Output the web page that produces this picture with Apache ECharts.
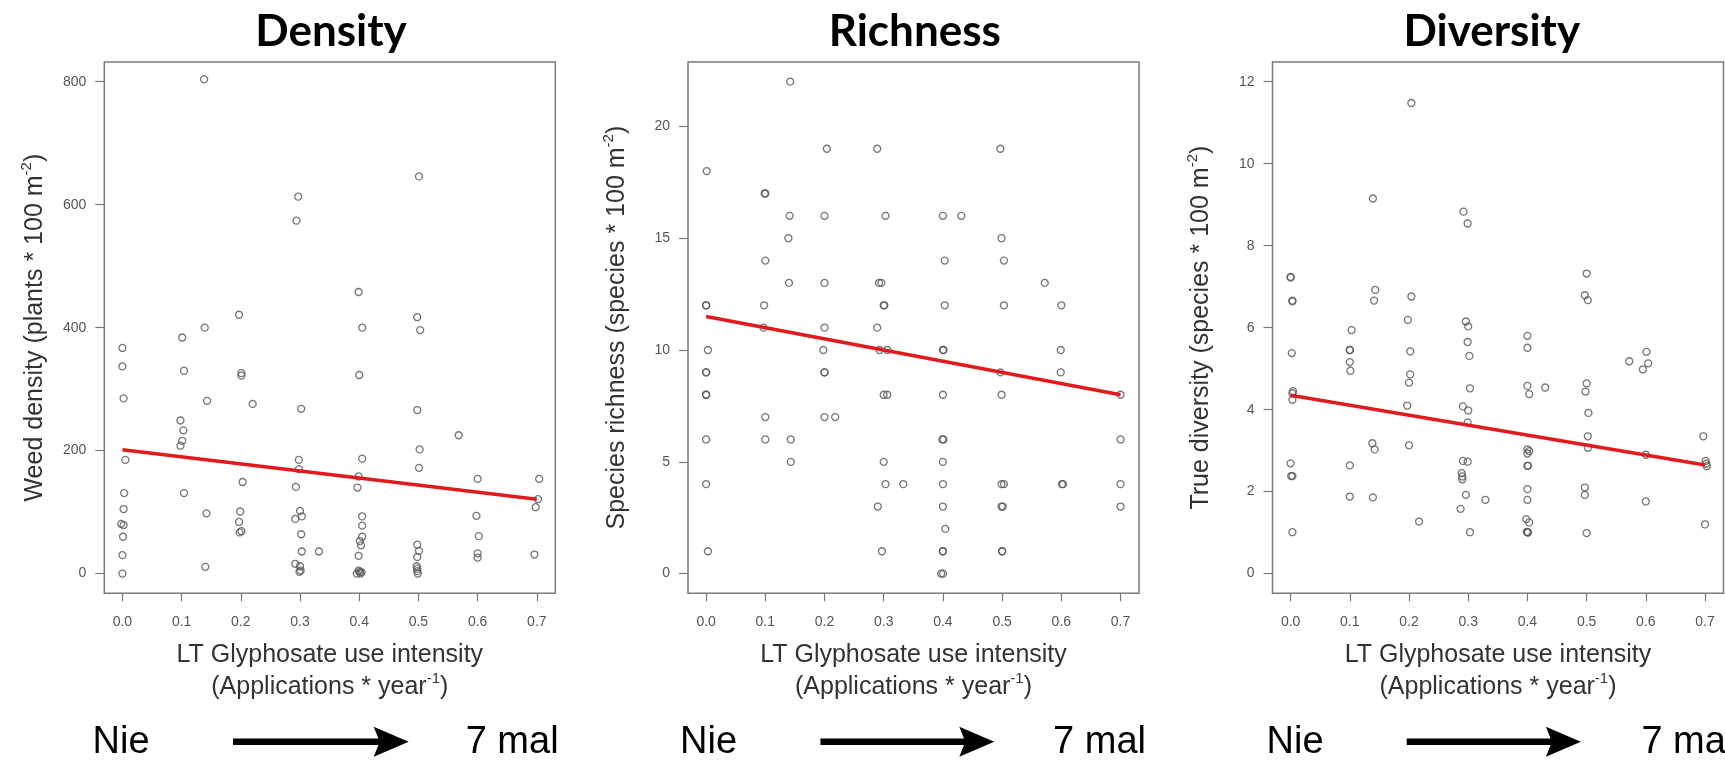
<!DOCTYPE html>
<html><head><meta charset="utf-8">
<script src="https://cdn.jsdelivr.net/npm/echarts@6/dist/echarts.min.js"></script>
<style>html,body{margin:0;padding:0;background:#fff}#c{width:1725px;height:762px}</style>
</head><body><div id="c"></div>
<script>
// ---------- data ----------
const panelTitles = ['Density', 'Richness', 'Diversity'];
const xTitle = 'LT Glyphosate use intensity';
const xSubTitle = ['(Applications * year', '-1', ')'];
const yTitles = [
  ['Weed density (plants * 100 m', '-2', ')'],
  ['Species richness (species * 100 m', '-2', ')'],
  ['True diversity (species * 100 m', '-2', ')']
];
const xTicks = [0, 0.1, 0.2, 0.3, 0.4, 0.5, 0.6, 0.7];
const densityTicks = [0, 200, 400, 600, 800];
const richnessTicks = [0, 5, 10, 15, 20];
const diversityTicks = [0, 2, 4, 6, 8, 10, 12];
const bottomLeft = 'Nie';
const bottomRight = '7 mal';

const densityPts = [
  [0.0,367],[0.0,337],[0.002,285],[0.005,185],[0.003,131],[0.002,105],[-0.002,81],[0.002,79],[0.001,60],[0.0,30],[0.0,0],
  [0.101,384],[0.104,330],[0.098,249],[0.103,233],[0.101,216],[0.098,208],[0.104,131],
  [0.138,804],[0.139,400],[0.143,281],[0.142,98],[0.140,11],
  [0.197,421],[0.201,326],[0.201,322],[0.203,149],[0.199,101],[0.197,84],[0.201,69],[0.198,67],[0.22,276],
  [0.297,613],[0.294,574],[0.302,268],[0.298,185],[0.298,170],[0.293,141],[0.300,102],[0.303,93],[0.292,89],
  [0.302,64],[0.303,36],[0.292,16],[0.300,12],[0.301,5],[0.299,3],
  [0.332,36],
  [0.399,458],[0.405,400],[0.400,323],[0.405,187],[0.399,158],[0.397,140],[0.405,93],[0.405,78],[0.405,60],
  [0.401,53],[0.403,46],[0.399,29],[0.399,5],[0.401,3],[0.404,2],[0.396,0],[0.402,0],
  [0.501,646],[0.498,417],[0.503,396],[0.498,266],[0.502,202],[0.501,172],[0.498,47],[0.501,37],[0.498,27],
  [0.497,12],[0.498,8],[0.498,4],[0.499,0],
  [0.568,225],
  [0.600,154],[0.598,94],[0.602,61],[0.600,33],[0.600,26],
  [0.704,154],[0.702,121],[0.698,108],[0.696,31]
];
const densityFit = [[0, 201.5], [0.7, 121]];

const richnessPts = [
  [0.142,22],[0.204,19],[0.289,19],[0.497,19],[0.001,18],[0.099,17],[0.100,17],
  [0.141,16],[0.200,16],[0.303,16],[0.400,16],[0.431,16],
  [0.139,15],[0.499,15],
  [0.100,14],[0.403,14],[0.503,14],
  [0.140,13],[0.200,13],[0.292,13],[0.296,13],[0.572,13],
  [0.0,12],[0.0,12],[0.098,12],[0.300,12],[0.301,12],[0.403,12],[0.503,12],[0.600,12],
  [0.097,11],[0.200,11],[0.289,11],
  [0.003,10],[0.198,10],[0.293,10],[0.306,10],[0.400,10],[0.401,10],[0.599,10],
  [0.0,9],[0.0,9],[0.200,9],[0.200,9],[0.497,9],[0.599,9],
  [0.0,8],[0.0,8],[0.300,8],[0.306,8],[0.400,8],[0.499,8],[0.700,8],
  [0.100,7],[0.200,7],[0.218,7],
  [0.0,6],[0.100,6],[0.143,6],[0.399,6],[0.401,6],[0.700,6],
  [0.143,5],[0.300,5],[0.400,5],
  [0.0,4],[0.303,4],[0.333,4],[0.400,4],[0.499,4],[0.503,4],[0.601,4],[0.603,4],[0.700,4],
  [0.290,3],[0.400,3],[0.499,3],[0.501,3],[0.700,3],
  [0.404,2],
  [0.003,1],[0.297,1],[0.400,1],[0.400,1],[0.500,1],[0.500,1],
  [0.397,0],[0.400,0]
];
const richnessFit = [[0, 11.5], [0.7, 8.0]];

const diversityPts = [
  [0.204,11.48],[0.139,9.15],[0.292,8.83],[0.299,8.54],
  [0.0,7.24],[0.0,7.22],[0.500,7.32],[0.003,6.66],[0.003,6.64],[0.143,6.92],[0.141,6.66],[0.204,6.76],[0.497,6.79],[0.502,6.67],
  [0.198,6.19],[0.296,6.15],[0.300,6.03],[0.299,5.65],[0.302,5.31],[0.400,5.80],[0.400,5.51],[0.002,5.38],
  [0.103,5.94],[0.100,5.45],[0.100,5.46],[0.100,5.16],[0.101,4.95],[0.202,5.42],[0.202,4.86],[0.200,4.66],
  [0.572,5.18],[0.601,5.41],[0.604,5.13],[0.595,4.98],[0.303,4.52],[0.400,4.58],[0.403,4.38],[0.430,4.54],
  [0.500,4.64],[0.498,4.44],[0.004,4.45],[0.003,4.40],[0.003,4.24],
  [0.197,4.10],[0.291,4.08],[0.300,3.98],[0.299,3.69],[0.503,3.92],[0.502,3.35],[0.502,3.07],
  [0.138,3.18],[0.142,3.03],[0.200,3.13],[0.400,3.03],[0.403,2.99],[0.400,2.93],[0.600,2.90],
  [0.0,2.69],[0.001,2.38],[0.003,2.38],[0.100,2.64],[0.291,2.75],[0.299,2.73],[0.289,2.45],[0.290,2.37],[0.290,2.30],
  [0.400,2.63],[0.401,2.63],[0.400,2.06],[0.400,1.80],[0.398,1.33],[0.403,1.25],[0.400,1.01],[0.401,1.00],[0.399,1.02],
  [0.100,1.88],[0.139,1.86],[0.296,1.92],[0.329,1.80],[0.287,1.58],[0.217,1.27],[0.003,1.01],[0.303,1.01],
  [0.497,2.10],[0.497,1.92],[0.500,0.99],[0.600,1.76],
  [0.697,3.35],[0.701,2.75],[0.702,2.68],[0.703,2.62],[0.700,1.20]
];
const diversityFit = [[0, 4.35], [0.7, 2.65]];

// ---------- layout / style ----------
const panels = [
  { pts: densityPts, fit: densityFit, ticks: densityTicks, ymin: -32, ymax: 832, left: 104.3, nameGap: 53 },
  { pts: richnessPts, fit: richnessFit, ticks: richnessTicks, ymin: -0.88, ymax: 22.88, left: 688, nameGap: 55 },
  { pts: diversityPts, fit: diversityFit, ticks: diversityTicks, ymin: -0.48, ymax: 12.48, left: 1272.5, nameGap: 55 }
];
const GRID_TOP = 62, GRID_H = 531.3, GRID_W = 451;
const titleCenters = [331, 914.8, 1491.8];
const bottomRows = [
  { nie: 92.5, a0: 233, a1: 408.7, mal: 558.6, malAlign: 'right' },
  { nie: 680, a0: 820.4, a1: 994.3, mal: 1146, malAlign: 'right' },
  { nie: 1266.6, a0: 1406.7, a1: 1580.9, mal: 1641.4, malAlign: 'left' }
];
const SANS = '"Liberation Sans", Arial, sans-serif';
const richStyles = {
  a: { fontSize: 25, fontFamily: SANS, color: '#333', lineHeight: 32 },
  s: { fontSize: 15, fontFamily: SANS, color: '#333', verticalAlign: 'top', lineHeight: 15 }
};
const richName = parts => '{a|' + parts[0] + '}{s|' + parts[1] + '}{a|' + parts[2] + '}';

const grids = [], xAxes = [], yAxes = [], series = [];
panels.forEach((p, i) => {
  grids.push({ left: p.left, top: GRID_TOP, width: GRID_W, height: GRID_H, show: true,
    borderColor: '#7a7a7a', borderWidth: 1.5, backgroundColor: 'transparent' });
  xAxes.push({
    type: 'value', gridIndex: i, min: -0.0306, max: 0.7312,
    axisLine: { show: false, onZero: false }, splitLine: { show: false },
    axisTick: { show: true, length: 8, inside: false, customValues: xTicks, lineStyle: { color: '#777', width: 1.2 } },
    axisLabel: { customValues: xTicks, margin: 22, fontSize: 14, fontFamily: SANS, color: '#555',
      formatter: v => v.toFixed(1) },
    name: '{a|' + xTitle + '}\n' + richName(xSubTitle), nameLocation: 'middle', nameGap: 46,
    nameTextStyle: { rich: richStyles }
  });
  yAxes.push({
    type: 'value', gridIndex: i, min: p.ymin, max: p.ymax,
    axisLine: { show: false, onZero: false }, splitLine: { show: false },
    axisTick: { show: true, length: 9, inside: false, customValues: p.ticks, lineStyle: { color: '#777', width: 1.2 } },
    axisLabel: { customValues: p.ticks, margin: 18, fontSize: 14, fontFamily: SANS, color: '#555' },
    name: richName(yTitles[i]), nameLocation: 'middle', nameGap: p.nameGap,
    nameTextStyle: { rich: richStyles }
  });
  series.push({
    type: 'scatter', xAxisIndex: i, yAxisIndex: i, data: p.pts, symbol: 'circle', symbolSize: 7,
    itemStyle: { color: 'rgba(0,0,0,0)', borderColor: '#555', borderWidth: 1.3 }, z: 2, silent: true
  });
  series.push({
    type: 'line', xAxisIndex: i, yAxisIndex: i, data: p.fit, symbol: 'none',
    lineStyle: { color: '#e31a1c', width: 3.5 }, z: 3, silent: true
  });
});

const graphic = [];
panelTitles.forEach((t, i) => {
  graphic.push({ type: 'text', x: titleCenters[i], y: 32, silent: true,
    style: { text: t, font: 'bold 44px Lato, "Open Sans", sans-serif', fill: '#000', align: 'center', verticalAlign: 'middle' } });
});
bottomRows.forEach(r => {
  const y = 743;
  graphic.push({ type: 'text', x: r.nie, y: y, silent: true,
    style: { text: bottomLeft, font: '38px "Liberation Sans", Arial, sans-serif', fill: '#000', align: 'left', verticalAlign: 'middle' } });
  graphic.push({ type: 'text', x: r.mal, y: y, silent: true,
    style: { text: bottomRight, font: '38px "Liberation Sans", Arial, sans-serif', fill: '#000', align: r.malAlign, verticalAlign: 'middle' } });
  graphic.push({ type: 'line', silent: true, shape: { x1: r.a0, y1: 741.7, x2: r.a1 - 26, y2: 741.7 },
    style: { stroke: '#000', lineWidth: 6.5 } });
  graphic.push({ type: 'polygon', silent: true,
    shape: { points: [[r.a1 - 35, 726.7], [r.a1, 741.7], [r.a1 - 35, 756.7], [r.a1 - 29, 741.7]] },
    style: { fill: '#000' } });
});

const chart = echarts.init(document.getElementById('c'), null, { renderer: 'canvas' });
chart.setOption({
  animation: false,
  backgroundColor: '#fff',
  grid: grids, xAxis: xAxes, yAxis: yAxes, series: series, graphic: graphic
});
</script>
</body></html>
